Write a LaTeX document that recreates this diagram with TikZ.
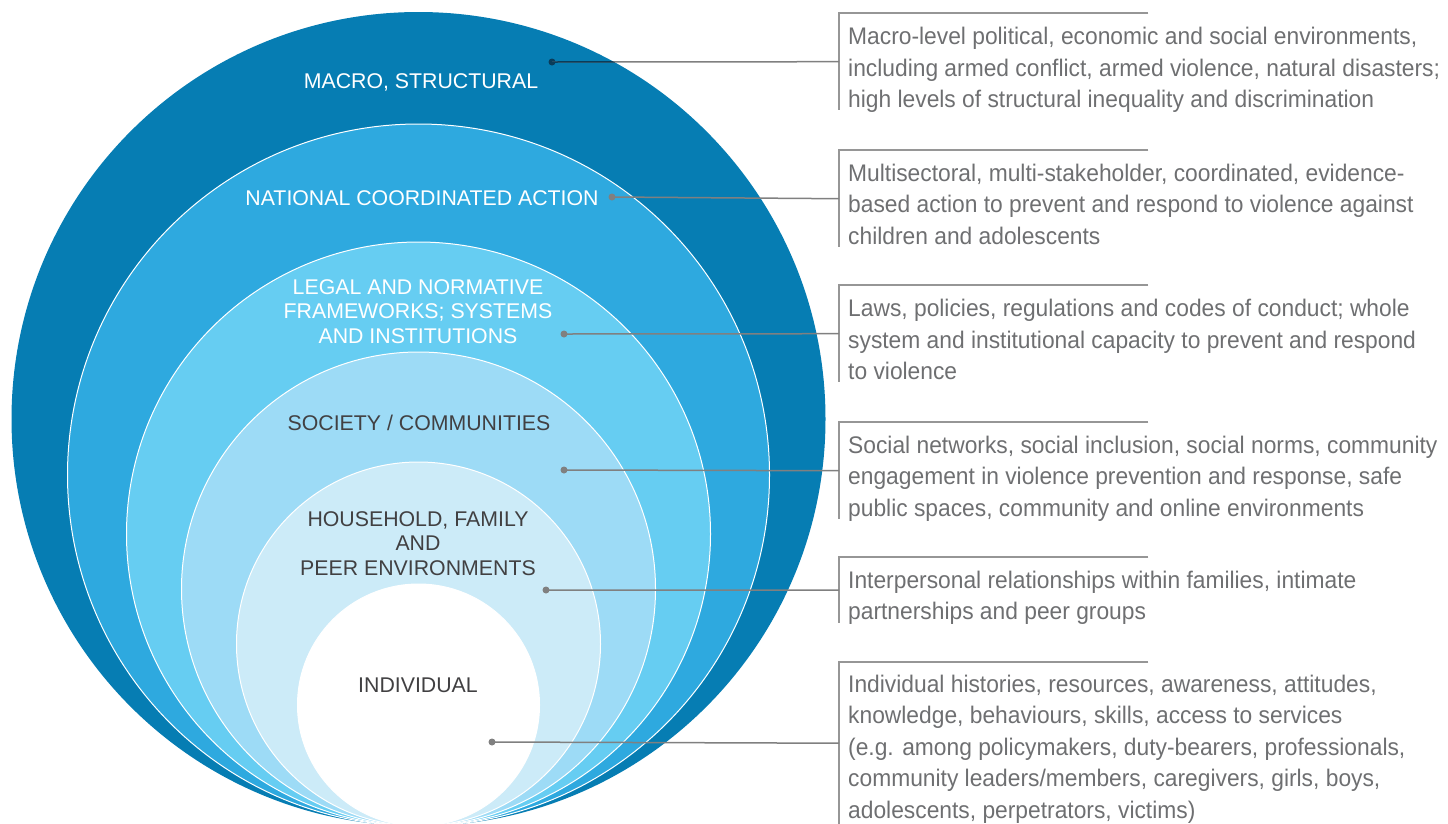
\documentclass[tikz,border=0pt]{standalone}
\usepackage{fontspec}
\setmainfont{Liberation Sans}
\newfontfamily\descfont{Liberation Sans}[FakeStretch=0.95]
\definecolor{cA}{RGB}{6,125,179}
\definecolor{cB}{RGB}{46,169,223}
\definecolor{cC}{RGB}{102,205,242}
\definecolor{cD}{RGB}{157,219,246}
\definecolor{cE}{RGB}{204,235,248}
\definecolor{descgray}{RGB}{110,111,113}
\definecolor{labdark}{RGB}{65,64,66}
\definecolor{linegray}{RGB}{128,128,128}
\definecolor{bargray}{RGB}{150,150,150}
\definecolor{deepline}{RGB}{10,60,90}
\begin{document}
\begin{tikzpicture}[x=1pt,y=-1pt,
  ring/.style={draw=white,line width=1pt},
  lab/.style={anchor=base,align=center,font=\fontsize{21.3}{24.5}\selectfont},
  desc/.style={anchor=base west,align=left,inner sep=0pt,text=descgray,font=\descfont\fontsize{24}{31.5}\selectfont},
  bracket/.style={inner sep=0pt,minimum width=309pt,anchor=north west},
  brk/.style={draw=bargray,line width=1.2pt},
  conn/.style={draw=linegray,line width=1.5pt},
  dot/.style={circle,fill=linegray,inner sep=0pt,minimum size=7pt}]
\useasboundingbox (0,0) rectangle (1448,823);
% nested circles, tangent at the bottom
\fill[cA] (418.5,419) circle[radius=407pt];
\path[ring,fill=cB] (418.5,475) circle[radius=351pt];
\path[ring,fill=cC] (418.5,534) circle[radius=292pt];
\path[ring,fill=cD] (418.5,589) circle[radius=237pt];
\path[ring,fill=cE] (418.5,644) circle[radius=182pt];
\path[ring,fill=white] (418.5,705) circle[radius=121pt];
% labels (multi-line nodes: base = last line)
\node[lab,text=white] (lmacro) at (421,88) {MACRO, STRUCTURAL};
\node[lab,text=white] (lnat) at (422,205) {NATIONAL COORDINATED ACTION};
\node[lab,text=white] (llegal) at (418,343) {LEGAL AND NORMATIVE\\FRAMEWORKS; SYSTEMS\\AND INSTITUTIONS};
\node[lab,text=labdark] (lsoc) at (419,430) {SOCIETY / COMMUNITIES};
\node[lab,text=labdark] (lhouse) at (418,575) {HOUSEHOLD, FAMILY\\AND\\PEER ENVIRONMENTS};
\node[lab,text=labdark] (lind) at (418,692) {INDIVIDUAL};
% brackets
\node[bracket,minimum height=97pt] (br1) at (839,13) {};
\node[bracket,minimum height=97pt] (br2) at (839,150) {};
\node[bracket,minimum height=97pt] (br3) at (839,285) {};
\node[bracket,minimum height=97pt] (br4) at (839,422) {};
\node[bracket,minimum height=66pt] (br5) at (839,557) {};
\node[bracket,minimum height=162pt] (br6) at (839,662) {};
\foreach \b in {br1,br2,br3,br4,br5,br6}
  \draw[brk] (\b.north east) -- (\b.north west) -- (\b.south west);
% descriptions (base = last line)
\node[desc] (t1) at (848,107.5) {Macro-level political, economic and social environments,\\including armed conflict, armed violence, natural disasters;\\high levels of structural inequality and discrimination};
\node[desc] (t2) at (848,244) {Multisectoral, multi-stakeholder, coordinated, evidence-\\based action to prevent and respond to violence against\\children and adolescents};
\node[desc] (t3) at (848,379.5) {Laws, policies, regulations and codes of conduct; whole\\system and institutional capacity to prevent and respond\\to violence};
\node[desc] (t4) at (848,516) {Social networks, social inclusion, social norms, community\\engagement in violence prevention and response, safe\\public spaces, community and online environments};
\node[desc] (t5) at (848,619.5) {Interpersonal relationships within families, intimate\\partnerships and peer groups};
\node[desc] (t6) at (848,818) {Individual histories, resources, awareness, attitudes,\\knowledge, behaviours, skills, access to services\\(e.g. among policymakers, duty-bearers, professionals,\\community leaders/members, caregivers, girls, boys,\\adolescents, perpetrators, victims)};
% dots and connectors
\node[dot,fill=deepline] (d1) at (552,62) {};
\node[dot] (d2) at (612,197) {};
\node[dot] (d3) at (564,334) {};
\node[dot] (d4) at (564,470) {};
\node[dot] (d5) at (546,590) {};
\node[dot] (d6) at (492,742) {};
\draw[conn] (d1.center) -- (br1.west);
\begin{scope}
  \clip (418.5,419) circle[radius=407pt];
  \draw[conn,draw=deepline] (d1.center) -- (br1.west);
\end{scope}
\draw[conn] (d2.center) -- (br2.west);
\draw[conn] (d3.center) -- (br3.west);
\draw[conn] (d4.center) -- (br4.west);
\draw[conn] (d5.center) -- (br5.west);
\draw[conn] (d6.center) -- (br6.west);
\end{tikzpicture}
\end{document}
